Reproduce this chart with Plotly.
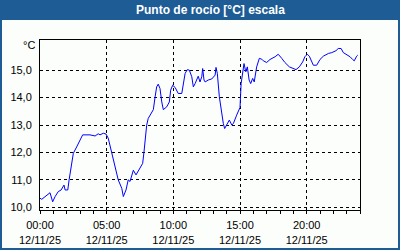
import plotly.graph_objects as go

times = ["00:00","00:08","00:45","00:57","01:08","01:22","01:35","01:48","01:53","02:05","02:11","02:23","02:30","02:45",
         "03:00","03:12","03:45","04:08","04:22","04:30","04:45","04:57","05:07","05:30","05:52","06:08","06:15","06:27",
         "06:37","06:45","07:00","07:12","07:30","07:42","07:48","07:53","08:00","08:07","08:23","08:30","08:38","08:45",
         "08:52","09:00","09:08","09:15","09:30","09:42","09:48","09:57","10:08","10:22","10:38","10:45","10:53","11:03",
         "11:12","11:23","11:30","11:38","11:45","11:52","12:00","12:08","12:12","12:18","12:23","12:37","12:53","13:08",
         "13:12","13:18","13:27","13:38","13:45","13:51","14:00","14:12","14:23","14:30","14:45","15:00","15:05","15:10",
         "15:18","15:26","15:33","15:41","15:48","15:57","16:04","16:15","16:27","16:38","16:45","17:00","17:15","17:38",
         "17:52","18:08","18:22","18:42","19:00","19:12","19:27","19:42","19:52","20:03","20:12","20:23","20:30","20:45",
         "21:00","21:15","21:38","21:53","22:12","22:22","22:35","22:45","23:00","23:15","23:27","23:34","23:45","23:50"]
values = [10.33,10.29,10.53,10.20,10.39,10.57,10.63,10.81,10.63,10.63,11.00,11.60,11.97,12.20,
          12.45,12.64,12.64,12.60,12.68,12.64,12.70,12.67,12.52,11.72,11.00,10.69,10.39,10.63,
          11.00,10.94,11.35,11.18,11.42,11.60,12.02,12.45,12.99,13.24,13.48,13.56,14.03,14.39,
          14.49,14.33,13.84,13.56,13.66,13.84,14.27,14.45,14.37,14.15,14.15,14.45,14.88,15.02,
          15.00,14.76,14.39,14.51,14.64,14.78,14.57,14.76,15.06,14.64,14.57,14.64,14.68,14.82,
          15.10,14.88,14.03,13.36,13.05,12.87,13.03,13.18,13.00,13.05,13.36,13.64,14.51,14.88,
          15.24,14.94,15.12,14.64,14.51,14.70,14.57,15.12,15.43,15.40,15.34,15.28,15.39,15.49,
          15.58,15.43,15.28,15.12,15.06,15.02,15.12,15.30,15.49,15.58,15.51,15.30,15.18,15.18,
          15.39,15.51,15.61,15.64,15.71,15.79,15.79,15.64,15.58,15.49,15.39,15.34,15.51,15.55]
date = "2025-11-12"
y_ticks = [10, 11, 12, 13, 14, 15]

x = [f"{date} {t}" for t in times]

BLUE = "#1d5c95"
FONT = "Liberation Sans"

fig = go.Figure()
fig.add_trace(go.Scatter(x=x, y=values, mode="lines",
                         line=dict(color="#0000ff", width=1), hoverinfo="skip"))

W, H = 400, 250
L, R, T, B = 40, 40, 40, 40
pw, ph = W - L - R, H - T - B

def px(xp):
    return (xp - L) / pw

def py(yp):
    return (H - B - yp) / ph

fig.update_layout(
    width=W, height=H,
    margin=dict(l=L, r=R, t=T, b=B, autoexpand=False),
    paper_bgcolor="#fcfefc",
    plot_bgcolor="#fcfefc",
    separators=",.",
    showlegend=False,
    font=dict(family=FONT, size=11, color="#000000"),
    shapes=[
        dict(type="rect", xref="paper", yref="paper", x0=px(0), x1=px(400), y0=py(0), y1=py(20),
             fillcolor=BLUE, line=dict(width=0), layer="below"),
        dict(type="rect", xref="paper", yref="paper", x0=px(1), x1=px(399), y0=py(249), y1=py(1),
             fillcolor="rgba(0,0,0,0)", line=dict(color=BLUE, width=2), layer="below"),
    ],
    annotations=[
        dict(text="Punto de rocío [°C] escala", xref="paper", yref="paper", x=px(210), y=py(10),
             xanchor="center", yanchor="middle", showarrow=False,
             font=dict(family=FONT, size=12, color="white", weight="bold")),
        dict(text="°C", xref="paper", yref="paper", x=px(37), y=py(45),
             xanchor="right", yanchor="middle", showarrow=False,
             font=dict(family=FONT, size=11, color="black")),
    ],
)

fig.update_xaxes(
    type="date", automargin=False,
    range=[f"{date} 00:00", "2025-11-13 00:00"],
    tick0=f"{date} 00:00", dtick=5 * 3600 * 1000,
    tickformat="%H:%M<br>%d/%m/%y",
    ticks="outside", ticklen=3, tickcolor="black", ticklabelstandoff=2,
    minor=dict(dtick=3600 * 1000, ticks="outside", ticklen=3, tickcolor="black", showgrid=False),
    showgrid=True, gridcolor="black", griddash="3px,3px", gridwidth=1,
    showline=True, linecolor="black", linewidth=1, mirror=True,
    zeroline=False, fixedrange=True,
)
fig.update_yaxes(
    range=[9.9, 16.1], automargin=False,
    tickvals=y_ticks, tickformat=".1f",
    ticks="", ticklabelstandoff=5,
    showgrid=True, gridcolor="black", griddash="3px,3px", gridwidth=1,
    showline=True, linecolor="black", linewidth=1, mirror=True,
    zeroline=False, fixedrange=True,
)

fig.write_html("out.html")
